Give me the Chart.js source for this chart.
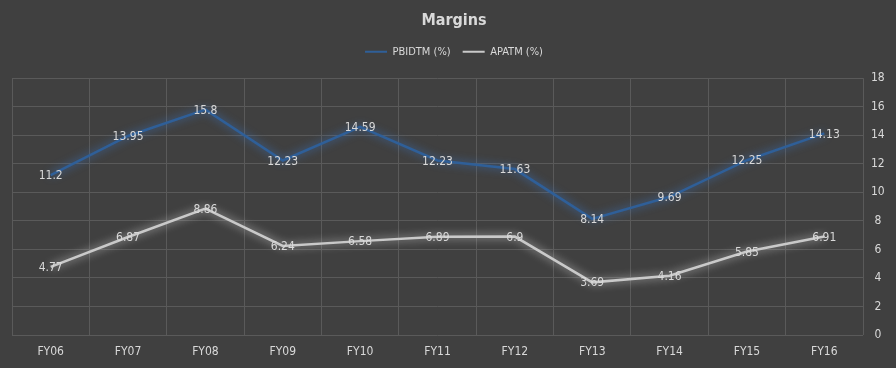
<!DOCTYPE html>
<html><head><meta charset="utf-8">
<script src="https://cdn.jsdelivr.net/npm/chart.js@4/dist/chart.umd.min.js"></script>
<style>html,body{margin:0;padding:0;background:#404040;}#wrap{width:896px;height:368px;}</style>
</head><body><div id="wrap"><canvas id="c" width="896" height="368"></canvas></div>
<script>
const categories = ["FY06","FY07","FY08","FY09","FY10","FY11","FY12","FY13","FY14","FY15","FY16"];
const pbidtm = [11.2,13.95,15.8,12.23,14.59,12.23,11.63,8.14,9.69,12.25,14.13];
const apatm = [4.77,6.87,8.86,6.24,6.58,6.89,6.9,3.69,4.16,5.85,6.91];
const seriesNames = ["PBIDTM (%)","APATM (%)"];
const FONT = "'Liberation Sans Narrow','DejaVu Sans Condensed','Open Sans',sans-serif";

const glow = {
  id:'glow',
  beforeDatasetDraw(chart,args){
    const ctx=chart.ctx; ctx.save();
    ctx.shadowColor = args.index===0 ? 'rgba(60,120,200,0.9)' : 'rgba(235,235,235,0.8)';
    ctx.shadowBlur = 9;
  },
  afterDatasetDraw(chart){ chart.ctx.restore(); }
};
const labels = {
  id:'labels',
  afterDatasetsDraw(chart){
    const ctx=chart.ctx; ctx.save();
    ctx.font = "12px "+FONT; ctx.fillStyle='#d9d9d9';
    ctx.textAlign='center'; ctx.textBaseline='middle';
    chart.data.datasets.forEach((ds,i)=>{
      chart.getDatasetMeta(i).data.forEach((pt,j)=>{
        ctx.fillText(String(ds.data[j]), pt.x, pt.y+1);
      });
    });
    ctx.restore();
  }
};
const legendGap = {
  id:'legendGap',
  beforeInit(chart){
    const orig = chart.legend.fit;
    chart.legend.fit = function(){ orig.call(this); this.height += 11; };
  }
};

new Chart(document.getElementById('c'),{
  type:'line',
  data:{labels:categories,datasets:[
    {label:seriesNames[0],data:pbidtm,borderColor:'#2f5f98',backgroundColor:'#2f5f98',borderWidth:2.5,pointRadius:0,tension:0},
    {label:seriesNames[1],data:apatm,borderColor:'#c9c9c9',backgroundColor:'#c9c9c9',borderWidth:2.5,pointRadius:0,tension:0}
  ]},
  options:{
    responsive:false,animation:false,
    layout:{padding:{left:12,right:0,top:0,bottom:0}},
    plugins:{
      title:{display:true,text:'Margins',color:'#d9d9d9',font:{family:FONT,size:16,weight:'bold'},padding:{top:11,bottom:4}},
      legend:{display:true,labels:{color:'#d9d9d9',font:{family:FONT,size:11},boxWidth:22,boxHeight:2,padding:12,
        generateLabels(chart){return chart.data.datasets.map((d,i)=>({text:d.label,fillStyle:d.borderColor,strokeStyle:d.borderColor,lineWidth:0,datasetIndex:i,fontColor:'#d9d9d9'}));}}},
      tooltip:{enabled:false}
    },
    scales:{
      x:{offset:true,grid:{offset:true,color:'#5a5a5a',drawTicks:false},border:{display:false},
        ticks:{color:'#d9d9d9',font:{family:FONT,size:12},padding:10,maxRotation:0},
        afterFit(s){s.height=33;}},
      y:{position:'right',min:0,max:18,grid:{color:'#5a5a5a',drawTicks:false},border:{display:false},
        ticks:{stepSize:2,color:'#d9d9d9',font:{family:FONT,size:12},padding:8,crossAlign:'center'},
        afterFit(s){s.width=33;}}
    }
  },
  plugins:[legendGap,glow,labels]
});
</script></body></html>
